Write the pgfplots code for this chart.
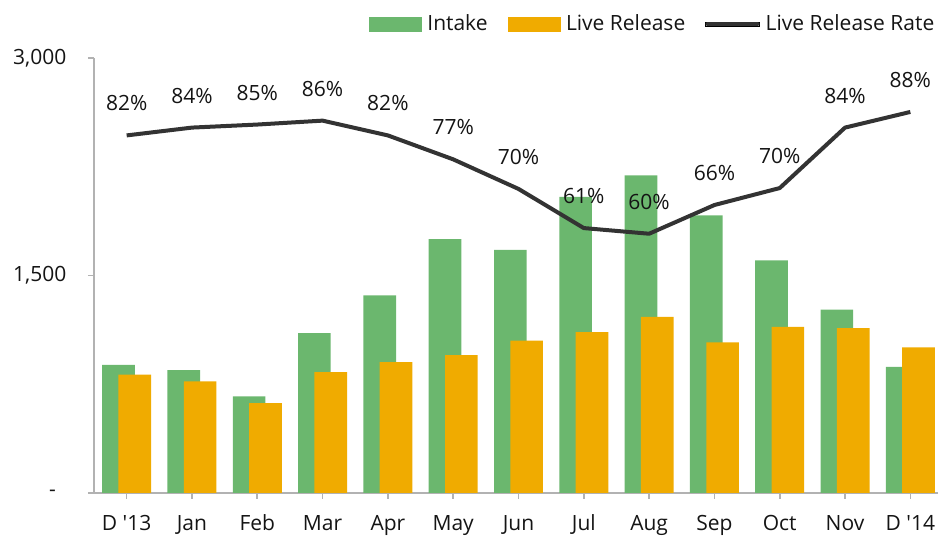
\documentclass[border=0pt]{standalone}
\usepackage{fontspec}
\setmainfont{Open Sans}
\usepackage{pgfplots}
\usepackage{pgfplotstable}
\pgfplotsset{compat=1.18}
\definecolor{intake}{RGB}{107,183,110}
\definecolor{release}{RGB}{240,171,0}
\definecolor{rateline}{RGB}{51,51,51}
\definecolor{axisgray}{RGB}{178,178,178}
\definecolor{txt}{RGB}{20,20,20}
\pgfplotsset{
  intakeleg/.style={legend image code/.code={\fill[intake] (0pt,-6.75pt) rectangle (52pt,6.75pt);}},
  releaseleg/.style={legend image code/.code={\fill[release] (0pt,-6.75pt) rectangle (52pt,6.75pt);}},
  rateleg/.style={legend image code/.code={\path (0pt,-2pt) rectangle (54pt,2pt); \draw[rateline,line width=4pt,line cap=round] (2pt,0pt)--(52pt,0pt);}},
}
\pgfplotstableread{
idx intake release rate
0  883  816 82.2
1  848  770 84.0
2  667  619 84.7
3  1103 834 85.6
4  1363 903 82.2
5  1750 950 76.7
6  1676 1050 69.9
7  2043 1110 60.9
8  2191 1214 59.6
9  1915 1039 66.2
10 1605 1145 70.1
11 1265 1137 84.0
12 870  1004 87.6
}\datatable

\begin{document}
\fontsize{21}{25}\selectfont
\begin{tikzpicture}[font=\fontsize{21}{25}\selectfont, text=txt]
\useasboundingbox (-94pt,-45pt) rectangle (844pt,493pt);
\begin{axis}[
  at={(0pt,0pt)}, anchor=south west,
  scale only axis, width=849pt, height=435pt,
  xmin=-0.5, xmax=12.5, ymin=0, ymax=3000,
  axis x line*=bottom, axis y line*=left,
  axis line style={-, axisgray, line width=1.6pt},
  tick style={axisgray, line width=1.6pt},
  tick align=outside, major tick length=6pt,
  xtick={0,...,12},
  xticklabels={{D \textquotesingle13},Jan,Feb,Mar,Apr,May,Jun,Jul,Aug,Sep,Oct,Nov,{D \textquotesingle14}},
  ytick={0,1500,3000},
  yticklabels={{-\kern10.5pt},{1,500},{3,000}},
  xticklabel style={anchor=base, inner sep=0pt, yshift=-32pt},
  yticklabel style={anchor=east, inner sep=0pt, xshift=-21.5pt},
  clip=false,
]
\addplot[ybar, bar width=0.5, bar shift=-0.125, fill=intake, draw=none] table[x=idx,y=intake]{\datatable};
\addplot[ybar, bar width=0.5, bar shift=0.125, fill=release, draw=none] table[x=idx,y=release]{\datatable};
\end{axis}
\begin{axis}[
  at={(0pt,0pt)}, anchor=south west,
  scale only axis, width=849pt, height=435pt,
  xmin=-0.5, xmax=12.5, ymin=0, ymax=100,
  hide axis, clip=false,
  legend columns=-1,
  legend style={at={(0.3239,1.0782)}, anchor=west, draw=none, fill=none,
    inner sep=0pt, outer sep=0pt,
    nodes={inner sep=0pt},
    /tikz/every odd column/.append style={column sep=6pt},
    /tikz/every even column/.append style={column sep=20pt}},
]
\addlegendimage{intakeleg}
\addlegendentry{Intake}
\addlegendimage{releaseleg}
\addlegendentry{Live Release}
\addlegendimage{rateleg}
\addlegendentry{Live Release Rate}
\addplot[rateline, line width=4pt, line join=round, mark=none, forget plot,
  point meta=y,
  nodes near coords={\pgfmathprintnumber[fixed,precision=0,assume math mode=true]{\pgfplotspointmeta}\%},
  every node near coord/.append style={anchor=base, inner sep=0pt, yshift=24.5pt, text=txt, font=\fontsize{21}{25}\selectfont},
] table[x=idx,y=rate]{\datatable};
\end{axis}
\end{tikzpicture}
\end{document}
